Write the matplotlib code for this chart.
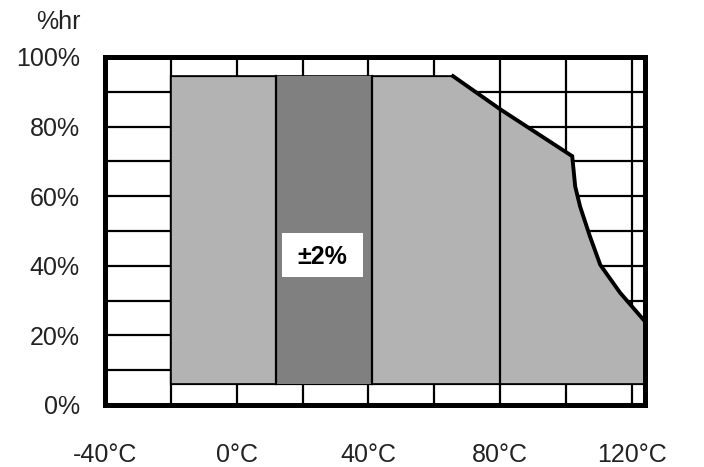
import numpy as np
import matplotlib
matplotlib.use("Agg")
import matplotlib.pyplot as plt
from matplotlib.patches import Rectangle

plt.rcParams["font.family"] = ["Liberation Sans", "DejaVu Sans"]

# operating envelope (temperature in degC, relative humidity in %)
env_temp = [-20, -20, 65.7, 80, 101.9, 102.8, 104.3, 107.3, 110.4, 116.4, 124, 124]
env_rh = [6, 94.5, 94.5, 85, 71.5, 62.8, 57, 48.4, 40.3, 32.3, 24, 6]

# zone where accuracy is +-2 %
band_temp = [12, 41]
divider_temp = 80
band_label = "±2%"

x_ticks = [-40, 0, 40, 80, 120]
x_labels = ["-40°C", "0°C", "40°C", "80°C", "120°C"]
y_ticks = [0, 20, 40, 60, 80, 100]
y_labels = ["0%", "20%", "40%", "60%", "80%", "100%"]

light = "#b3b3b3"
dark = "#808080"

fig = plt.figure(figsize=(7.04, 4.67), dpi=100)
ax = fig.add_axes([105 / 704, 62 / 467, 540 / 704, 348 / 467])
ax.set_xlim(-40, 124)
ax.set_ylim(0, 100)

# grid
for x in range(-20, 121, 20):
    ax.axvline(x, color="black", lw=1.6, zorder=1)
for y in range(10, 100, 10):
    ax.axhline(y, color="black", lw=1.6, zorder=1)

# light envelope
ax.fill(env_temp, env_rh, facecolor=light, edgecolor="black", lw=1.4, zorder=2)

# dark band
top = env_rh[1]
bottom = env_rh[0]
ax.fill_between(band_temp, bottom, top, facecolor=dark, edgecolor="none", zorder=3)
for x in band_temp:
    ax.plot([x, x], [bottom, top], color="black", lw=1.6, zorder=4)

# divider at 80 degC
div_top = np.interp(divider_temp, env_temp[2:-1], env_rh[2:-1])
ax.plot([divider_temp, divider_temp], [bottom, div_top], color="black", lw=1.6, zorder=4)

# thick outline of the falling edge
ax.plot(env_temp[2:-1], env_rh[2:-1], color="black", lw=2.8, zorder=5,
        solid_joinstyle="miter")

# label box
ax.add_patch(Rectangle((13.8, 36.8), 24.6, 12.6, facecolor="white",
                       edgecolor="none", zorder=6))
ax.text(26.1, 42.4, band_label, ha="center", va="center", fontsize=18,
        fontweight="bold", zorder=7)

ax.set_xticks(x_ticks)
ax.set_xticklabels(x_labels)
ax.set_yticks(y_ticks)
ax.set_yticklabels(y_labels)
ax.tick_params(axis="both", length=0, labelsize=18, colors="#222222")
ax.tick_params(axis="x", pad=27)
ax.tick_params(axis="y", pad=18)

for s in ax.spines.values():
    s.set_linewidth(3.6)
    s.set_color("black")
    s.set_zorder(10)

ax.text(-0.046, 1.1, "%hr", transform=ax.transAxes, ha="right", va="center",
        fontsize=18, color="#222222")

fig.savefig("out.png", dpi=100)
